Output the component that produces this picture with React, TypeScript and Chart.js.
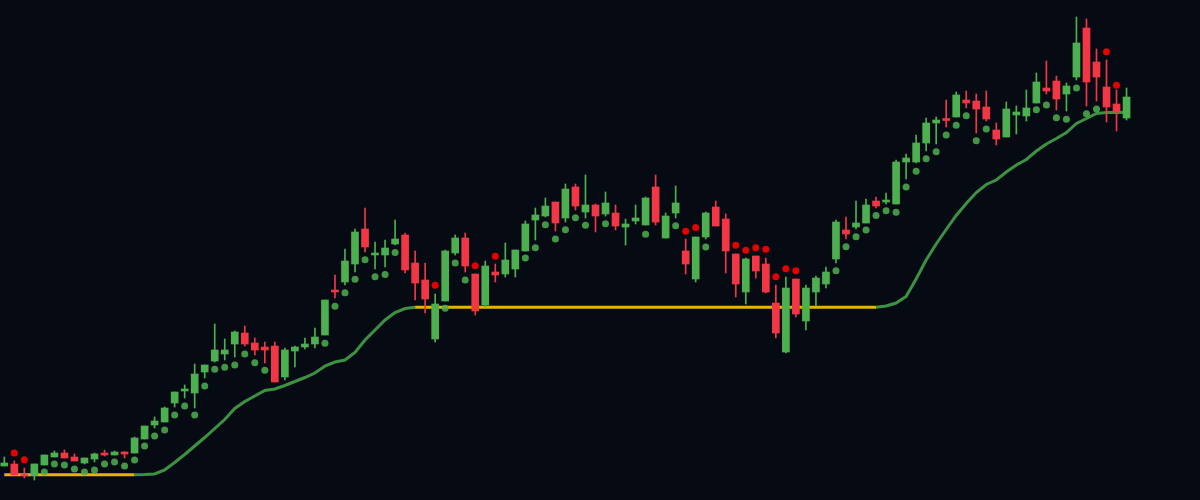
import React, { useEffect, useRef } from "react";
import { Chart, registerables } from "chart.js";

Chart.register(...registerables);

// Price data (one entry per bar)
const openPrices = [
  103.4, 103.6, 102.55, 102.45, 103.5, 104.3, 104.7, 104.3, 103.7, 104.1,
  104.7, 104.5, 104.8, 104.7, 106.1, 107.5, 107.8, 109.7, 110.9, 110.7,
  112.8, 113.9, 114.6, 115.6, 116.7, 115.7, 115.3, 115.4, 112.3, 114.9,
  115.3, 115.6, 116.5, 121.0, 121.8, 123.6, 127.1, 124.5, 124.5, 125.6,
  126.5, 123.7, 122.0, 116.1, 119.9, 124.7, 126.2, 122.6, 119.5, 122.8,
  122.6, 123.1, 124.9, 128.0, 128.4, 129.8, 128.2, 131.3, 128.8, 129.5,
  128.6, 128.7, 127.3, 127.9, 127.5, 131.3, 126.2, 128.7, 124.9, 122.1,
  126.3, 129.3, 128.1, 124.6, 120.8, 124.4, 123.6, 119.7, 114.8, 122.1,
  117.9, 120.8, 121.6, 124.1, 127.0, 127.3, 127.7, 129.9, 129.8, 129.6,
  133.8, 133.8, 135.7, 137.7, 138.15, 138.3, 140.0, 139.9, 139.3, 137.0,
  136.3, 138.5, 138.4, 139.7, 141.2, 141.9, 140.6, 142.3, 147.2, 143.8,
  141.3, 139.6, 138.2,
];
const highPrices = [
  104.3, 103.9, 103.2, 103.6, 104.5, 104.9, 105.0, 104.6, 104.2, 104.7,
  105.0, 104.9, 104.85, 106.3, 107.4, 108.3, 109.3, 110.8, 111.5, 113.6,
  113.5, 117.6, 116.1, 116.9, 117.4, 116.2, 115.8, 115.8, 115.2, 115.4,
  116.2, 117.2, 120.0, 122.5, 125.1, 127.1, 129.2, 125.8, 126.0, 128.0,
  126.7, 124.9, 123.7, 120.6, 125.0, 126.5, 126.7, 122.6, 123.9, 123.6,
  125.7, 125.0, 127.9, 129.2, 130.2, 129.8, 131.6, 131.6, 132.5, 129.6,
  130.8, 129.5, 128.1, 129.5, 130.3, 132.5, 128.7, 131.4, 126.1, 126.3,
  128.8, 129.9, 128.6, 124.6, 124.2, 124.4, 124.2, 121.5, 122.3, 122.1,
  121.5, 122.4, 123.3, 128.0, 128.3, 129.9, 130.1, 130.3, 130.7, 134.0,
  134.6, 136.5, 138.2, 138.3, 140.0, 140.8, 140.9, 140.6, 140.9, 137.7,
  139.8, 139.4, 141.0, 142.7, 143.9, 142.4, 141.7, 148.3, 148.1, 145.1,
  144.0, 141.0, 141.2,
];
const lowPrices = [
  103.4, 102.5, 102.2, 102.0, 103.5, 104.3, 104.2, 103.9, 103.6, 103.8,
  104.4, 104.5, 104.2, 104.7, 106.1, 107.2, 107.8, 109.3, 110.2, 109.2,
  112.2, 113.8, 114.0, 114.3, 115.4, 114.5, 113.7, 111.8, 112.0, 113.3,
  115.1, 115.2, 116.5, 120.2, 121.5, 122.8, 124.8, 123.1, 123.3, 125.5,
  122.7, 120.0, 118.7, 115.8, 119.9, 124.5, 122.8, 118.5, 119.3, 121.8,
  122.3, 122.3, 124.9, 126.0, 128.3, 126.9, 127.8, 129.0, 128.2, 126.8,
  128.4, 127.0, 125.5, 127.6, 127.5, 127.5, 126.2, 128.2, 122.6, 121.8,
  126.1, 127.4, 122.7, 120.3, 119.6, 122.2, 120.7, 116.2, 114.7, 118.3,
  117.0, 119.4, 121.2, 123.7, 126.1, 127.1, 127.7, 129.2, 129.6, 129.6,
  132.1, 133.7, 134.9, 135.6, 137.3, 138.3, 139.2, 136.7, 137.9, 135.5,
  136.3, 136.6, 137.9, 139.7, 140.6, 139.0, 138.9, 142.0, 139.4, 139.9,
  137.8, 136.9, 138.0,
];
const closePrices = [
  103.7, 102.5, 102.45, 103.6, 104.5, 104.7, 104.2, 103.9, 104.2, 104.6,
  104.5, 104.8, 104.6, 106.2, 107.4, 107.9, 109.2, 110.8, 111.1, 112.6,
  113.5, 115.0, 115.0, 116.8, 115.6, 115.0, 115.0, 111.8, 115.0, 115.3,
  115.6, 116.3, 120.0, 120.8, 123.9, 126.8, 125.3, 124.7, 125.2, 126.1,
  123.0, 121.7, 120.1, 119.6, 124.9, 126.2, 123.4, 118.9, 123.4, 122.5,
  124.0, 125.0, 127.6, 128.5, 129.4, 127.7, 131.1, 129.4, 129.5, 128.4,
  129.7, 127.4, 127.6, 128.2, 130.2, 127.8, 128.4, 129.7, 123.6, 126.3,
  128.7, 127.4, 124.9, 121.6, 124.1, 122.9, 120.8, 116.7, 121.2, 118.6,
  121.2, 122.2, 122.8, 127.8, 126.6, 127.7, 129.5, 129.4, 130.0, 133.8,
  134.2, 135.7, 137.7, 138.0, 137.95, 140.5, 139.7, 139.1, 138.1, 136.1,
  139.1, 138.8, 139.2, 141.8, 140.9, 140.1, 141.4, 145.7, 141.8, 142.3,
  139.3, 138.8, 140.3,
];

// Parabolic SAR values (null = no dot) and side ("b" below / "a" above)
const sarValues = [
  null, 104.7, 104.03, null, 102.8, 103.6, 103.5, 103.1, 102.8, 103.0,
  103.6, 103.8, 103.4, 104.0, 105.4, 106.4, 107.0, 108.5, 109.4, 108.5,
  111.4, 113.07, 113.27, 113.5, 114.6, 113.73, 112.97, null, null, null,
  null, null, 115.67, 119.37, 120.73, 122.07, 124.03, 122.33, 122.55, 124.75,
  null, null, null, 121.47, 119.18, 123.7, 122.0, 123.43, null, 124.38,
  null, null, 124.2, 125.22, 127.53, 126.1, 127.03, 128.23, 127.47, null,
  127.63, null, null, null, 126.57, null, null, 127.43, 126.88, 127.24,
  125.3, null, null, 125.47, 124.98, 125.23, 125.07, 122.33, 123.13, 122.93,
  null, null, null, 122.93, 125.32, 126.33, 127.0, 128.45, 128.93, 128.77,
  131.3, 132.87, 134.13, 134.82, 136.5, 137.47, 138.43, 135.93, 137.1, null,
  null, null, null, 139.03, 139.5, 138.23, 138.07, 141.2, 138.63, 139.1,
  144.83, 141.47, null,
];
const sarSide = [
  "b", "a", "a", "b", "b", "b", "b", "b", "b", "b",
  "b", "b", "b", "b", "b", "b", "b", "b", "b", "b",
  "b", "b", "b", "b", "b", "b", "b", "b", "b", "b",
  "b", "b", "b", "b", "b", "b", "b", "b", "b", "b",
  "b", "b", "b", "a", "b", "b", "b", "a", "a", "a",
  "b", "b", "b", "b", "b", "b", "b", "b", "b", "b",
  "b", "b", "b", "b", "b", "b", "b", "b", "a", "a",
  "b", "b", "b", "a", "a", "a", "a", "a", "a", "a",
  "b", "b", "b", "b", "b", "b", "b", "b", "b", "b",
  "b", "b", "b", "b", "b", "b", "b", "b", "b", "b",
  "b", "b", "b", "b", "b", "b", "b", "b", "b", "b",
  "a", "a", "b",
];

// Trailing baseline
const baseline = [
  102.53, 102.53, 102.53, 102.53, 102.53, 102.53, 102.53, 102.53, 102.53, 102.53,
  102.53, 102.53, 102.53, 102.53, 102.55, 102.6, 103.0, 103.75, 104.55, 105.4,
  106.25, 107.15, 108.05, 109.15, 109.85, 110.4, 110.95, 111.1, 111.45, 111.85,
  112.25, 112.7, 113.4, 113.8, 114.0, 114.75, 116.0, 117.0, 118.0, 118.75,
  119.15, 119.27, 119.27, 119.27, 119.27, 119.27, 119.27, 119.27, 119.27, 119.27,
  119.27, 119.27, 119.27, 119.27, 119.27, 119.27, 119.27, 119.27, 119.27, 119.27,
  119.27, 119.27, 119.27, 119.27, 119.27, 119.27, 119.27, 119.27, 119.27, 119.27,
  119.27, 119.27, 119.27, 119.27, 119.27, 119.27, 119.27, 119.27, 119.27, 119.27,
  119.27, 119.27, 119.27, 119.27, 119.27, 119.27, 119.27, 119.27, 119.4, 119.7,
  120.35, 122.1, 124.0, 125.6, 127.05, 128.45, 129.65, 130.75, 131.55, 132.0,
  132.8, 133.5, 134.05, 134.9, 135.6, 136.15, 136.75, 137.65, 138.15, 138.65,
  138.74, 138.76, 138.78,
];

const UP = "#4caf50";
const DOWN = "#f23645";
const BG = "#060b13";

export default function App() {
  const ref = useRef<HTMLCanvasElement | null>(null);

  useEffect(() => {
    document.body.style.margin = "0";
    document.body.style.background = BG;
    const canvas = ref.current;
    if (!canvas) return;

    const idx = openPrices.map((_, i) => i);
    const isUp = (i: number) => closePrices[i] >= openPrices[i];

    const bodies = idx.map((i) => ({ x: i, y: [openPrices[i], closePrices[i]] }));
    const wicks = idx.map((i) => ({ x: i, y: [lowPrices[i], highPrices[i]] }));
    const colors = idx.map((i) => (isUp(i) ? UP : DOWN));

    const sarBelow = idx
      .filter((i) => sarValues[i] !== null && sarSide[i] === "b")
      .map((i) => ({ x: i, y: sarValues[i] as number }));
    const sarAbove = idx
      .filter((i) => sarValues[i] !== null && sarSide[i] === "a")
      .map((i) => ({ x: i, y: sarValues[i] as number }));
    const line = idx.map((i) => ({ x: i, y: baseline[i] }));

    const chart = new Chart(canvas, {
      type: "bar",
      data: {
        datasets: [
          {
            type: "bar",
            data: bodies as any,
            backgroundColor: colors,
            borderWidth: 0,
            barThickness: 7,
            grouped: false,
            order: 0,
          } as any,
          {
            type: "bar",
            data: wicks as any,
            backgroundColor: colors,
            borderWidth: 0,
            barThickness: 1,
            grouped: false,
            order: 1,
          } as any,
          {
            type: "scatter",
            data: sarBelow,
            backgroundColor: "rgba(76,175,80,0.85)",
            borderWidth: 0,
            pointRadius: 3.5,
            order: 2,
          } as any,
          {
            type: "scatter",
            data: sarAbove,
            backgroundColor: "#e60000",
            borderWidth: 0,
            pointRadius: 3.5,
            order: 2,
          } as any,
          {
            type: "line",
            data: line,
            borderWidth: 3,
            pointRadius: 0,
            tension: 0,
            borderColor: "rgba(67,160,71,0.9)",
            segment: {
              borderColor: (ctx: any) =>
                ctx.p0.parsed.y === ctx.p1.parsed.y ? "#e6b400" : "rgba(67,160,71,0.9)",
            },
            order: 3,
          } as any,
        ],
      },
      options: {
        animation: false,
        responsive: false,
        events: [],
        layout: { padding: 0, autoPadding: false },
        plugins: {
          legend: { display: false },
          tooltip: { enabled: false },
          title: { display: false },
        },
        scales: {
          x: { type: "linear", min: -0.43, max: 119.33, offset: false, display: false },
          y: { type: "linear", min: 100, max: 150, display: false },
        },
      },
    });
    return () => chart.destroy();
  }, []);

  return (
    <div style={{ width: 1200, height: 500, background: BG }}>
      <canvas ref={ref} width={1200} height={500} style={{ display: "block", background: BG }} />
    </div>
  );
}
